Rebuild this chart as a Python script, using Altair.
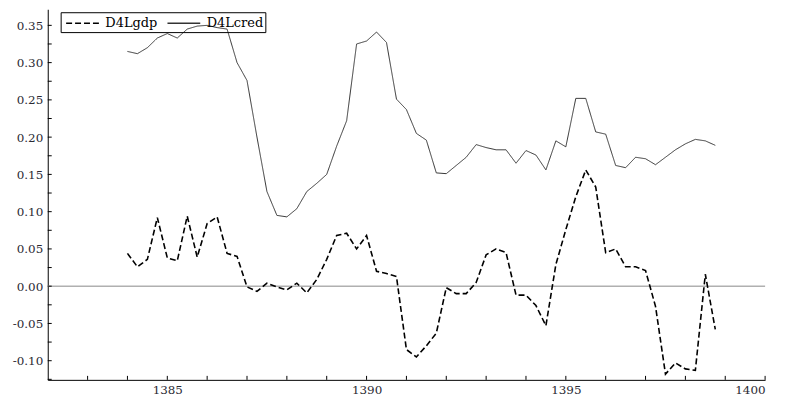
import altair as alt
import pandas as pd

quarters = [
    1384.0, 1384.25, 1384.5, 1384.75, 1385.0, 1385.25, 1385.5, 1385.75,
    1386.0, 1386.25, 1386.5, 1386.75, 1387.0, 1387.25, 1387.5, 1387.75,
    1388.0, 1388.25, 1388.5, 1388.75, 1389.0, 1389.25, 1389.5, 1389.75,
    1390.0, 1390.25, 1390.5, 1390.75, 1391.0, 1391.25, 1391.5, 1391.75,
    1392.0, 1392.25, 1392.5, 1392.75, 1393.0, 1393.25, 1393.5, 1393.75,
    1394.0, 1394.25, 1394.5, 1394.75, 1395.0, 1395.25, 1395.5, 1395.75,
    1396.0, 1396.25, 1396.5, 1396.75, 1397.0, 1397.25, 1397.5, 1397.75,
    1398.0, 1398.25, 1398.5, 1398.75,
]

d4lgdp = [
    0.044, 0.026, 0.036, 0.092, 0.038, 0.034, 0.094, 0.039,
    0.084, 0.093, 0.044, 0.040, -0.001, -0.007, 0.004, -0.001,
    -0.005, 0.004, -0.009, 0.009, 0.036, 0.068, 0.071, 0.050,
    0.068, 0.020, 0.017, 0.013, -0.085, -0.095, -0.080, -0.063,
    -0.002, -0.010, -0.010, 0.005, 0.042, 0.050, 0.045, -0.012,
    -0.012, -0.026, -0.053, 0.029, 0.076, 0.120, 0.156, 0.133,
    0.045, 0.050, 0.026, 0.026, 0.021, -0.027, -0.118, -0.103,
    -0.111, -0.113, 0.016, -0.058,
]

d4lcred = [
    0.315, 0.312, 0.320, 0.333, 0.339, 0.333, 0.345, 0.349,
    0.350, 0.347, 0.345, 0.300, 0.276, 0.200, 0.127, 0.095,
    0.093, 0.104, 0.127, 0.138, 0.150, 0.188, 0.222, 0.325,
    0.329, 0.341, 0.327, 0.251, 0.237, 0.205, 0.196, 0.152,
    0.151, 0.162, 0.173, 0.190, 0.186, 0.183, 0.183, 0.165,
    0.182, 0.176, 0.156, 0.195, 0.187, 0.252, 0.252, 0.207,
    0.204, 0.162, 0.159, 0.173, 0.171, 0.163, 0.173, 0.183,
    0.191, 0.197, 0.195, 0.189,
]

series_names = ["D4Lgdp", "D4Lcred"]
x_labels = [1385, 1390, 1395, 1400]
y_labels = [-0.10, -0.05, 0.00, 0.05, 0.10, 0.15, 0.20, 0.25, 0.30, 0.35]
x_ticks = [1383, 1384, 1385, 1386, 1387, 1388, 1389, 1390, 1391, 1392,
           1393, 1394, 1395, 1396, 1397, 1398, 1399, 1400]
y_ticks = [-0.125, -0.10, -0.075, -0.05, -0.025, 0.0, 0.025, 0.05, 0.075,
           0.10, 0.125, 0.15, 0.175, 0.20, 0.225, 0.25, 0.275, 0.30, 0.325, 0.35]
zero_line = [0.0]

W, H = 722, 373
FONT = "DejaVu Serif"

df = pd.DataFrame({
    "t": quarters * 2,
    "v": d4lgdp + d4lcred,
    "series": ["D4Lgdp"] * len(quarters) + ["D4Lcred"] * len(quarters),
})

xs = alt.Scale(domain=[1382, 1400], nice=False, zero=False)
ys = alt.Scale(domain=[-0.1257, 0.3716], nice=False, zero=False)

color = alt.Color("series:N", scale=alt.Scale(domain=series_names, range=["#000000", "#333333"]),
                  legend=alt.Legend(title=None))
dash = alt.StrokeDash("series:N", scale=alt.Scale(domain=series_names, range=[[6, 3], [1, 0]]),
                      legend=alt.Legend(title=None))

x_enc = alt.X("t:Q", scale=xs, axis=alt.Axis(
    title=None, values=x_labels, format="d", ticks=False, grid=False,
    domainColor="#000000", domainWidth=1, labelPadding=5,
    labelFont=FONT, labelFontSize=12, labelColor="#2a2a33"))
y_enc = alt.Y("v:Q", scale=ys, axis=alt.Axis(
    title=None, values=y_labels, ticks=False, grid=False,
    labelExpr="replace(format(datum.value, '.2f'), '\u2212', '-')",
    domainColor="#000000", domainWidth=1, labelPadding=5,
    labelFont=FONT, labelFontSize=12, labelColor="#2a2a33"))

zero = alt.Chart(pd.DataFrame({"z": zero_line})).mark_rule(
    color="#b0b0b0", strokeWidth=1.5).encode(y=alt.Y("z:Q", scale=ys))

gdp = alt.Chart(df).transform_filter(alt.datum.series == "D4Lgdp").mark_line(
    strokeWidth=1.6).encode(x=x_enc, y=y_enc, color=color, strokeDash=dash)
cred = alt.Chart(df).transform_filter(alt.datum.series == "D4Lcred").mark_line(
    strokeWidth=1.0).encode(x=x_enc, y=y_enc, color=color, strokeDash=dash)

xt = alt.Chart(pd.DataFrame({"xt": x_ticks})).mark_rule(color="#000000", strokeWidth=1).encode(
    x=alt.X("xt:Q", scale=xs), y=alt.value(H), y2=alt.value(H - 4))
yt = alt.Chart(pd.DataFrame({"yt": y_ticks})).mark_rule(color="#000000", strokeWidth=1).encode(
    y=alt.Y("yt:Q", scale=ys), x=alt.value(0), x2=alt.value(4))

chart = alt.layer(zero, gdp, cred, xt, yt).properties(
    width=W, height=H,
    autosize=alt.AutoSizeParams(type="none"),
    padding={"left": 40, "top": 0, "right": 16, "bottom": 18},
).configure_view(stroke=None).configure_legend(
    orient="none", legendX=13, legendY=3, direction="horizontal",
    strokeColor="#000000", padding=2, symbolType="M-2,0H2", symbolSize=272,
    symbolStrokeWidth=1.5, symbolOffset=11, labelFont=FONT, labelFontSize=13,
    labelColor="#000000", columnPadding=6, labelOffset=14,
)

chart.save("out.html", embed_options={"renderer": "svg", "actions": False})
